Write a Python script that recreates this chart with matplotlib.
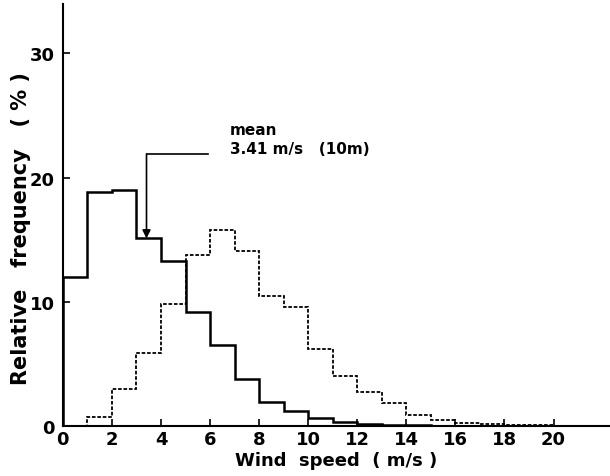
"""
Wind speed frequency distribution (step histograms)
"""
import matplotlib
matplotlib.use('Agg')
import matplotlib.pyplot as plt
import numpy as np

plt.rcParams['font.family'] = ['DejaVu Sans']
plt.rcParams['font.weight'] = 'bold'

# bin edges, m/s
bin_edges = np.arange(0, 23, 1)

# measured at 10 m (solid)
freq_10m = [12.0, 18.8, 19.0, 15.1, 13.3, 9.2, 6.5, 3.8, 1.9, 1.2, 0.6,
            0.35, 0.15, 0.1, 0.05, 0.02, 0.0, 0.0, 0.0, 0.0, 0.0, 0.0]
# second distribution (dotted)
freq_other = [0.0, 0.75, 3.0, 5.9, 9.8, 13.8, 15.8, 14.1, 10.5, 9.6, 6.2,
              4.05, 2.75, 1.85, 0.9, 0.45, 0.25, 0.15, 0.1, 0.05, 0.02, 0.0]

mean_speed = 3.41
mean_text = 'mean\n3.41 m/s   (10m)'

x_ticks = [0, 2, 4, 6, 8, 10, 12, 14, 16, 18, 20]
y_ticks = [0, 10, 20, 30]

fig = plt.figure(figsize=(6.10, 4.77), dpi=100)
ax = fig.add_axes([0.103, 0.105, 0.897, 0.885])

ax.stairs(freq_10m, bin_edges, color='black', linewidth=1.8)
ax.stairs(freq_other, bin_edges, color='black', linewidth=1.3,
          linestyle=(0, (2, 1)))

# mean marker: bracket line and arrow onto the 10 m histogram
bar_at_mean = freq_10m[int(mean_speed)]
top = 21.9
ax.plot([mean_speed, 5.9], [top, top], color='black', linewidth=1.2)
ax.annotate('', xy=(mean_speed, bar_at_mean), xytext=(mean_speed, top),
            arrowprops=dict(arrowstyle='-|>', color='black', lw=1.2,
                            mutation_scale=12, shrinkA=0, shrinkB=0))
ax.text(6.8, 23.1, mean_text, fontsize=11, fontweight='bold',
        va='center', ha='left', linespacing=1.3)

ax.set_xlim(0, 22.3)
ax.set_ylim(0, 34)
ax.set_xticks(x_ticks)
ax.set_yticks(y_ticks)
ax.tick_params(direction='in', length=5, width=1.2, labelsize=13)
ax.tick_params(axis='x', pad=3)
ax.tick_params(axis='y', pad=6)

for side in ['top', 'right']:
    ax.spines[side].set_visible(False)
for side in ['left', 'bottom']:
    ax.spines[side].set_linewidth(1.5)

ax.set_xlabel('Wind  speed  ( m/s )', fontsize=13, fontweight='bold',
              labelpad=2)
fig.text(21 / 610, 1 - 229 / 477, 'Relative   frequency   ( % )',
         rotation=90, ha='center', va='center', fontsize=15,
         fontweight='bold')

fig.savefig('out.png', dpi=100)
